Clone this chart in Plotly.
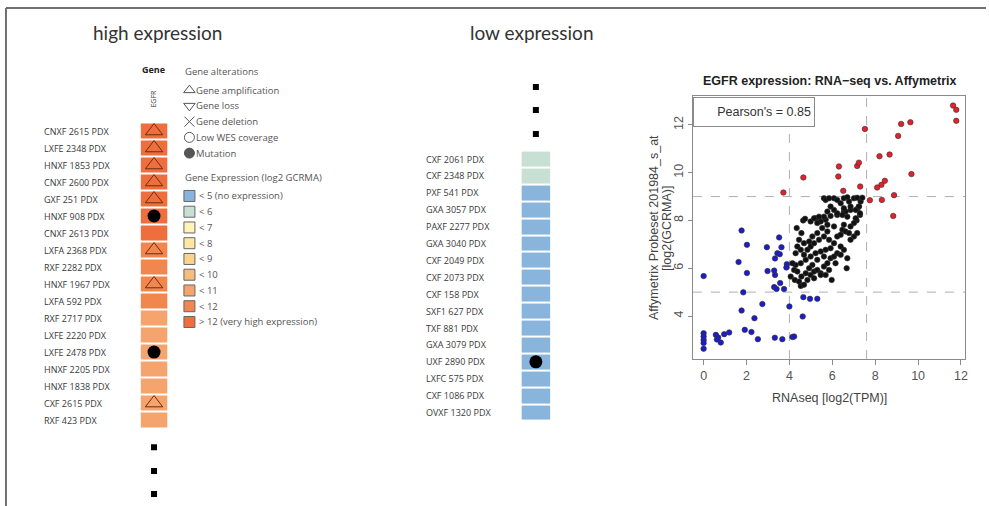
import plotly.graph_objects as go

W, H = 989, 506


def px(x):
    return x / W


def py(y):
    return 1 - y / H


# ---------------- DATA ----------------
high_samples = ["CNXF 2615 PDX", "LXFE 2348 PDX", "HNXF 1853 PDX", "CNXF 2600 PDX",
                "GXF 251 PDX", "HNXF 908 PDX", "CNXF 2613 PDX", "LXFA 2368 PDX",
                "RXF 2282 PDX", "HNXF 1967 PDX", "LXFA 592 PDX", "RXF 2717 PDX",
                "LXFE 2220 PDX", "LXFE 2478 PDX", "HNXF 2205 PDX", "HNXF 1838 PDX",
                "CXF 2615 PDX", "RXF 423 PDX"]
high_expr = [12.8, 12.6, 12.5, 12.4, 12.3, 12.2, 12.1, 11.8, 11.6, 11.5, 11.3,
             10.9, 10.8, 10.7, 10.6, 10.5, 10.4, 10.3]
high_amplified = ["CNXF 2615 PDX", "LXFE 2348 PDX", "HNXF 1853 PDX", "CNXF 2600 PDX",
                  "GXF 251 PDX", "LXFA 2368 PDX", "HNXF 1967 PDX", "CXF 2615 PDX"]
high_mutated = ["HNXF 908 PDX", "LXFE 2478 PDX"]

low_samples = ["CXF 2061 PDX", "CXF 2348 PDX", "PXF 541 PDX", "GXA 3057 PDX",
               "PAXF 2277 PDX", "GXA 3040 PDX", "CXF 2049 PDX", "CXF 2073 PDX",
               "CXF 158 PDX", "SXF1 627 PDX", "TXF 881 PDX", "GXA 3079 PDX",
               "UXF 2890 PDX", "LXFC 575 PDX", "CXF 1086 PDX", "OVXF 1320 PDX"]
low_expr = [5.5, 5.3, 4.4, 4.3, 4.3, 4.2, 4.2, 4.1, 4.1, 4.0, 4.0, 3.9, 3.9, 3.8, 3.8, 3.7]
low_mutated = ["UXF 2890 PDX"]

# ellipsis rows ("more samples") in row units
high_ellipsis_rows = [18.6, 20.0, 21.35]
low_ellipsis_rows = [-4.26, -2.9, -1.48]

alteration_labels = ["Gene amplification", "Gene loss", "Gene deletion",
                     "Low WES coverage", "Mutation"]
alteration_symbols = ["triangle-up-open", "triangle-down-open", "x-thin-open",
                      "circle-open", "circle"]
expr_bin_labels = ["< 5 (no expression)", "< 6", "< 7", "< 8", "< 9", "< 10",
                   "< 11", "< 12", "> 12 (very high expression)"]
expr_bin_colors = ["#89b5dc", "#c8e0d4", "#fff4b8", "#fde7a2", "#fbd48c",
                   "#f8bd7c", "#f6a46e", "#f1864f", "#ee6f3d"]

# scatter: RNAseq log2(TPM) vs Affymetrix log2(GCRMA)
red_x = [11.63, 11.78, 11.78, 7.52, 9.21, 9.64, 9.07, 8.20, 8.67, 6.31, 7.16, 7.24,
         4.65, 6.28, 9.69, 8.45, 8.29, 8.09, 7.30, 6.51, 3.72, 8.88, 7.75, 8.31, 8.84]
red_y = [12.81, 12.63, 12.17, 11.83, 12.04, 12.11, 11.54, 10.69, 10.76, 10.26, 10.28, 10.42,
         9.80, 9.84, 9.94, 9.66, 9.49, 9.38, 9.42, 9.24, 9.17, 9.06, 8.85, 8.86, 8.19]

blue_x = [1.77, 2.02, 2.95, 3.52, 3.63, 3.44, 3.55, 3.33, 1.63, 3.88, 3.86, 2.02, 2.98,
          3.29, 3.33, 0.00, 3.57, 3.29, 3.40, 3.75, 1.85, 4.65, 4.96, 5.30, 2.74, 4.00,
          1.77, 2.37, 4.62, 1.92, 2.23, 2.53, 3.32, 3.67, 4.14, 4.22, 1.19, 0.96, 0.57,
          0.68, 0.80, 0.00, 0.00, 0.00, 0.00, 0.00, 0.62]
blue_y = [7.58, 6.98, 6.88, 7.29, 6.88, 6.63, 6.59, 6.41, 6.26, 6.17, 6.03, 5.80, 5.88,
          5.90, 5.72, 5.67, 5.38, 5.21, 5.13, 5.13, 4.99, 4.79, 4.72, 4.72, 4.50, 4.40,
          4.23, 3.91, 3.98, 3.42, 3.33, 3.03, 3.09, 3.03, 3.12, 3.14, 3.31, 3.24, 3.21,
          3.10, 2.89, 3.28, 3.14, 3.00, 2.87, 2.63, 3.02]

black_x = [4.34, 4.64, 4.73, 4.56, 4.99, 5.22, 5.46, 5.69, 5.92, 6.23, 6.54, 6.85, 7.16,
           7.24, 7.29, 7.13, 7.01, 6.70, 6.54, 6.47, 6.08, 5.77, 5.53, 5.30, 5.07, 4.92,
           4.68, 4.45, 4.37, 4.29, 4.53, 4.68, 4.84, 4.99, 5.15, 5.38, 5.61, 5.85, 6.08,
           6.23, 6.39, 6.62, 6.78, 7.01, 7.16, 5.92, 5.69, 5.46, 5.22, 4.99, 4.76, 4.53,
           4.29, 4.14, 4.22, 4.06, 4.25, 4.45, 4.53, 4.68, 4.84, 4.99, 5.15, 5.30, 5.46,
           5.61, 5.77, 5.92, 6.08, 6.23, 6.39, 6.54, 6.70, 6.67, 5.97, 5.61, 5.30, 5.07,
           4.92, 5.15, 5.46, 4.76, 4.56, 4.37, 6.15, 5.85, 5.69, 6.39, 6.85, 7.09, 5.30,
           5.77, 6.85,
           5.61, 5.69, 5.85, 6.08, 6.23, 6.39, 6.54, 6.70, 6.78, 7.01, 7.16, 7.32, 7.24,
           7.09, 6.85, 6.62, 6.47, 6.23, 6.08, 5.92, 5.77, 5.61, 5.38, 5.15, 6.54, 7.40,
           7.29]
black_y = [7.68, 8.00, 8.07, 7.47, 7.96, 8.09, 7.96, 8.03, 8.19, 8.23, 8.37, 8.44, 8.47,
           8.58, 8.23, 8.00, 7.89, 8.16, 7.82, 7.61, 7.75, 7.54, 7.68, 7.47, 7.33, 7.12,
           7.05, 7.19, 6.91, 6.63, 6.77, 6.56, 6.77, 6.91, 7.05, 7.19, 7.33, 7.19, 7.05,
           7.33, 7.40, 7.54, 7.47, 7.33, 7.47, 6.84, 6.77, 6.70, 6.63, 6.49, 6.35, 6.21,
           6.14, 6.21, 5.93, 5.65, 5.51, 5.44, 5.26, 5.31, 5.51, 5.72, 5.86, 5.93, 5.79,
           6.07, 6.21, 6.42, 6.49, 6.63, 6.56, 6.77, 6.42, 6.00, 5.51, 6.49, 6.35, 6.14,
           6.00, 5.58, 5.72, 5.79, 5.65, 5.86, 6.21, 5.93, 5.72, 6.91, 7.19, 8.09, 7.89,
           7.82, 7.75,
           8.93, 8.86, 8.93, 8.93, 8.86, 8.72, 8.93, 8.97, 8.79, 8.93, 8.95, 8.79, 8.58,
           8.44, 8.58, 8.37, 8.23, 8.30, 8.44, 8.58, 8.37, 8.16, 8.16, 8.09, 8.51, 8.95,
           8.30]

rna_thresholds = [4.0, 7.6]
array_thresholds = [5.0, 9.0]
pearson_r = 0.85

# ---------------- FIGURE ----------------
fig = go.Figure()

edges_lo, edges_hi = 4, 13
nb = len(expr_bin_colors)
colorscale = []
for i, c in enumerate(expr_bin_colors):
    colorscale.append([i / nb, c])
    colorscale.append([(i + 1) / nb, c])

LABEL_FONT = dict(family="Open Sans", size=9, color="#3a3a3a")

# left heatmap (high expression)
fig.add_trace(go.Heatmap(z=[[v] for v in high_expr], x=[0], y=list(range(len(high_samples))),
                         zmin=edges_lo, zmax=edges_hi, colorscale=colorscale, showscale=False,
                         ygap=2, xaxis="x", yaxis="y", hoverinfo="skip"))
amp_idx = [high_samples.index(s) for s in high_amplified]
fig.add_trace(go.Scatter(x=[0] * len(amp_idx), y=amp_idx, mode="markers",
                         marker=dict(symbol="triangle-up-open", size=15, color="#6b2e10",
                                     line=dict(width=1)),
                         xaxis="x", yaxis="y", hoverinfo="skip"))
mut_idx = [high_samples.index(s) for s in high_mutated]
fig.add_trace(go.Scatter(x=[0] * len(mut_idx), y=mut_idx, mode="markers",
                         marker=dict(symbol="circle", size=13, color="#000000"),
                         xaxis="x", yaxis="y", hoverinfo="skip"))
fig.add_trace(go.Scatter(x=[0] * len(high_ellipsis_rows), y=high_ellipsis_rows, mode="markers",
                         marker=dict(symbol="square", size=6, color="#000000"),
                         xaxis="x", yaxis="y", hoverinfo="skip"))

# middle heatmap (low expression)
fig.add_trace(go.Heatmap(z=[[v] for v in low_expr], x=[0], y=list(range(len(low_samples))),
                         zmin=edges_lo, zmax=edges_hi, colorscale=colorscale, showscale=False,
                         ygap=2, xaxis="x2", yaxis="y2", hoverinfo="skip"))
lmut_idx = [low_samples.index(s) for s in low_mutated]
fig.add_trace(go.Scatter(x=[0] * len(lmut_idx), y=lmut_idx, mode="markers",
                         marker=dict(symbol="circle", size=13, color="#000000"),
                         xaxis="x2", yaxis="y2", hoverinfo="skip"))
fig.add_trace(go.Scatter(x=[0] * len(low_ellipsis_rows), y=low_ellipsis_rows, mode="markers",
                         marker=dict(symbol="square", size=6, color="#000000"),
                         xaxis="x2", yaxis="y2", hoverinfo="skip"))

# legend glyphs
alt_rows = [1.15 + i for i in range(len(alteration_labels))]
expr_header_row = 6.73
expr_rows = [7.87 + i for i in range(len(expr_bin_labels))]
fig.add_trace(go.Scatter(x=[7] * len(alt_rows), y=alt_rows, mode="markers",
                         marker=dict(symbol=alteration_symbols, size=10, color="#555555",
                                     line=dict(width=1, color="#555555")),
                         xaxis="x3", yaxis="y3", hoverinfo="skip"))
fig.add_trace(go.Scatter(x=[7] * len(expr_rows), y=expr_rows, mode="markers",
                         marker=dict(symbol="square", size=11, color=expr_bin_colors,
                                     line=dict(width=1, color="#666666")),
                         xaxis="x3", yaxis="y3", hoverinfo="skip"))

# scatter plot
for xs, ys, col in [(black_x, black_y, "#111111"), (blue_x, blue_y, "#1c1cc8"),
                    (red_x, red_y, "#e3202c")]:
    fig.add_trace(go.Scatter(x=xs, y=ys, mode="markers",
                             marker=dict(size=5.5, color=col, line=dict(width=0.6, color="#333333")),
                             xaxis="x4", yaxis="y4", hoverinfo="skip"))

hidden = dict(visible=False, showgrid=False, zeroline=False, fixedrange=True)

fig.update_layout(
    width=W, height=H, margin=dict(l=0, r=0, t=0, b=0),
    paper_bgcolor="white", plot_bgcolor="rgba(0,0,0,0)", showlegend=False,
    xaxis=dict(hidden, domain=[px(141), px(168)], range=[-0.5, 0.5], anchor="y"),
    yaxis=dict(hidden, domain=[py(500), py(122.5)], range=[21.7, -0.5], anchor="x"),
    xaxis2=dict(hidden, domain=[px(523), px(552)], range=[-0.5, 0.5], anchor="y2"),
    yaxis2=dict(hidden, domain=[py(421), py(75)], range=[15.5, -4.97], anchor="x2"),
    xaxis3=dict(hidden, domain=[px(183), px(330)], range=[0, 147], anchor="y3"),
    yaxis3=dict(hidden, domain=[py(330), py(62)], range=[16.38, -0.635], anchor="x3"),
    xaxis4=dict(domain=[px(695), px(968)], range=[-0.5, 12.19], anchor="y4",
                showgrid=False, zeroline=False,
                showline=True, mirror=True, linecolor="#8a8a8a", linewidth=1,
                ticks="outside", ticklen=5, tickcolor="#8a8a8a",
                tickvals=[0, 2, 4, 6, 8, 10, 12],
                tickfont=dict(family="Liberation Sans", size=12.5, color="#555555")),
    yaxis4=dict(domain=[py(359), py(96)], range=[2.2, 13.21], anchor="x4",
                showgrid=False, zeroline=False,
                showline=True, mirror=True, linecolor="#8a8a8a", linewidth=1,
                ticks="outside", ticklen=4, tickcolor="#8a8a8a",
                tickvals=[4, 6, 8, 10, 12], tickangle=-90,
                tickfont=dict(family="Liberation Sans", size=12.5, color="#555555")),
)

shapes = []
# outer frame (top and left rules)
shapes.append(dict(type="line", xref="paper", yref="paper", x0=px(6), x1=1, y0=py(8), y1=py(8),
                   line=dict(color="#707070", width=2)))
shapes.append(dict(type="line", xref="paper", yref="paper", x0=px(6), x1=px(6), y0=py(8), y1=0,
                   line=dict(color="#707070", width=2)))
for t in rna_thresholds:
    shapes.append(dict(type="line", xref="x4", yref="y4 domain", x0=t, x1=t, y0=0, y1=1,
                       line=dict(color="#b0b0b0", width=1, dash="dash"), layer="below"))
for t in array_thresholds:
    shapes.append(dict(type="line", xref="x4 domain", yref="y4", x0=0, x1=1, y0=t, y1=t,
                       line=dict(color="#b0b0b0", width=1, dash="dash"), layer="below"))
fig.update_layout(shapes=shapes)


def note(text, x, y, font, **kw):
    d = dict(text=text, x=px(x), y=py(y), xref="paper", yref="paper", showarrow=False,
             xanchor="center", yanchor="middle", font=font)
    d.update(kw)
    return d


ann = []
TITLE_FONT = dict(family="Lato", size=19, color="#333333")
ann.append(note("high expression", 158, 33, TITLE_FONT))
ann.append(note("low expression", 533, 33, TITLE_FONT))
ann.append(note("<b>Gene</b>", 154, 70, dict(family="Open Sans", size=9, color="#222222")))
ann.append(note("EGFR", 154, 99, dict(family="Open Sans", size=7, color="#333333"), textangle=-90))
for i, s in enumerate(high_samples):
    ann.append(dict(text=s, x=px(42), y=i, xref="paper", yref="y", xanchor="left",
                    yanchor="middle", showarrow=False, font=LABEL_FONT))
for i, s in enumerate(low_samples):
    ann.append(dict(text=s, x=px(425), y=i, xref="paper", yref="y2", xanchor="left",
                    yanchor="middle", showarrow=False, font=LABEL_FONT))

LEG_FONT = dict(family="Open Sans", size=9.5, color="#555555")
ann.append(dict(text="Gene alterations", x=1, y=0, xref="x3", yref="y3", xanchor="left",
                yanchor="middle", showarrow=False, font=LEG_FONT))
for r, lab in zip(alt_rows, alteration_labels):
    ann.append(dict(text=lab, x=12, y=r, xref="x3", yref="y3", xanchor="left",
                    yanchor="middle", showarrow=False, font=LEG_FONT))
ann.append(dict(text="Gene Expression (log2 GCRMA)", x=1, y=expr_header_row, xref="x3", yref="y3",
                xanchor="left", yanchor="middle", showarrow=False, font=LEG_FONT))
for r, lab in zip(expr_rows, expr_bin_labels):
    ann.append(dict(text=lab, x=15, y=r, xref="x3", yref="y3", xanchor="left",
                    yanchor="middle", showarrow=False, font=LEG_FONT))

SC_FONT = dict(family="Liberation Sans", size=12.5, color="#444444")
ann.append(note("<b>EGFR expression: RNA\u2212seq vs. Affymetrix</b>", 832, 81,
                dict(family="Liberation Sans", size=12.5, color="#222222")))
ann.append(note("RNAseq [log2(TPM)]", 832, 398, SC_FONT))
ann.append(note("Affymetrix Probeset 201984_s_at", 656, 228, SC_FONT, textangle=-90))
ann.append(note("[log2(GCRMA)]", 669, 228, SC_FONT, textangle=-90))
ann.append(note(f"Pearson's = {pearson_r:.2f}", 695.5, 96.5,
                dict(family="Liberation Sans", size=12.5, color="#333333"),
                xanchor="left", yanchor="top", width=114, height=22, align="right",
                borderpad=3, bgcolor="white", bordercolor="#8a8a8a", borderwidth=1))
fig.update_layout(annotations=ann)

fig.write_html("out.html", config={"displayModeBar": False},
               post_script="document.body.style.margin='0px';")
